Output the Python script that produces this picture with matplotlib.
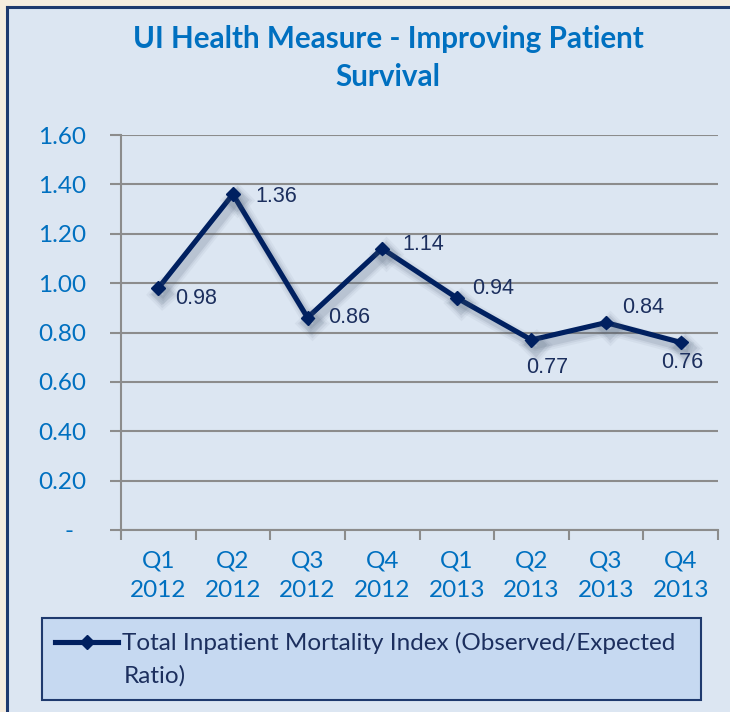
import matplotlib
matplotlib.use("Agg")
import matplotlib.pyplot as plt
import matplotlib.patheffects as pe
from matplotlib.patches import Rectangle
from matplotlib.lines import Line2D

quarters = ["Q1\n2012", "Q2\n2012", "Q3\n2012", "Q4\n2012",
            "Q1\n2013", "Q2\n2013", "Q3\n2013", "Q4\n2013"]
mortality_index = [0.98, 1.36, 0.86, 1.14, 0.94, 0.77, 0.84, 0.76]
y_ticks = [0.0, 0.2, 0.4, 0.6, 0.8, 1.0, 1.2, 1.4, 1.6]
y_tick_labels = ["-  ", "0.20", "0.40", "0.60", "0.80", "1.00", "1.20", "1.40", "1.60"]
series_name = "Total Inpatient Mortality Index (Observed/Expected"
series_name_2 = "Ratio)"
title = "UI Health Measure - Improving Patient\nSurvival"

W, H = 730, 712
blue = "#0070c0"
navy = "#002060"
text_navy = "#1c2f5e"
grid_gray = "#8c8c8c"
beige = "#f6eddf"
border = "#1f3a6e"
fs = 17.5

fig = plt.figure(figsize=(W / 100, H / 100), dpi=100)
fig.patch.set_facecolor("#dce6f2")

# beige margin on left and top, dark border only on those sides
fig.patches.append(Rectangle((0, 0), 6 / W, 1, transform=fig.transFigure,
                             facecolor=beige, edgecolor="none", zorder=-10))
fig.patches.append(Rectangle((0, 1 - 7 / H), 1, 7 / H, transform=fig.transFigure,
                             facecolor=beige, edgecolor="none", zorder=-10))
fig.add_artist(Line2D([7 / W, 7 / W], [0, 1 - 7 / H], transform=fig.transFigure,
                      color=border, lw=2.2, solid_capstyle="projecting"))
fig.add_artist(Line2D([7 / W, 1], [1 - 7 / H, 1 - 7 / H], transform=fig.transFigure,
                      color=border, lw=2.2, solid_capstyle="projecting"))

ax = fig.add_axes([121 / W, 1 - 530 / H, 597 / W, 395 / H])
ax.set_facecolor("none")
ax.set_zorder(2)

# soft drop shadow under the line
shadow = [pe.SimpleLineShadow(offset=(3, -4), shadow_color="#4a5a70", alpha=a, linewidth=w)
          for a, w in [(0.06, 11), (0.08, 8), (0.12, 5.5)]]

x = list(range(len(quarters)))
line, = ax.plot(x, mortality_index, color=navy, lw=3.7, marker="D", ms=7,
                solid_joinstyle="miter", zorder=5,
                path_effects=shadow + [pe.Normal()])

# data labels
offsets = [(17, -10, "left"), (22, -2, "left"), (21, 0, "left"), (20, 4, "left"),
           (15, 9, "left"), (16, -28, "center"), (16, 15, "left"), (1, -20, "center")]
for xi, v, (dx, dy, ha) in zip(x, mortality_index, offsets):
    ax.annotate(f"{v:.2f}", (xi, v), xytext=(dx, dy), textcoords="offset pixels",
                ha=ha, va="center", fontsize=15.5, color=text_navy,
                family="Liberation Sans", zorder=6)

ax.set_xlim(-0.5, len(quarters) - 0.5)
ax.set_ylim(0, 1.6)
ax.set_yticks(y_ticks)
ax.set_yticklabels(y_tick_labels)
ax.set_xticks(x)
ax.set_xticklabels(quarters)
ax.set_xticks([i - 0.5 for i in range(len(quarters) + 1)], minor=True)

for lab in ax.get_xticklabels() + ax.get_yticklabels():
    lab.set_family("Lato")
    lab.set_fontsize(fs)
    lab.set_color(blue)
for lab in ax.get_xticklabels():
    lab.set_linespacing(1.5)

ax.tick_params(axis="y", length=8, width=1.5, color=grid_gray, pad=17)
ax.tick_params(axis="x", which="major", length=0, pad=15)
ax.tick_params(axis="x", which="minor", length=7, width=1.5, color=grid_gray)

ax.yaxis.grid(True, color=grid_gray, lw=1.5)
ax.set_axisbelow(True)
for s in ["top", "right"]:
    ax.spines[s].set_visible(False)
for s in ["left", "bottom"]:
    ax.spines[s].set_color(grid_gray)
    ax.spines[s].set_linewidth(1.5)

fig.text(388 / W, 1 - 58 / H, title, ha="center", va="center", multialignment="center",
         fontsize=21.3, fontweight="bold", color=blue, family="Lato", linespacing=1.45)

# legend box
fig.patches.append(Rectangle((42 / W, 1 - 700 / H), 659 / W, 82 / H,
                             transform=fig.transFigure, facecolor="#c6d9f1",
                             edgecolor=border, linewidth=1.5, zorder=1))
leg = fig.legend([line], [series_name], loc="center left",
                 bbox_to_anchor=(55 / W, 1 - 643 / H), frameon=False,
                 borderpad=0, borderaxespad=0, handlelength=2.6, handletextpad=0.15,
                 prop={"family": "Lato", "size": fs})
leg.set_zorder(3)
leg.get_lines()[0].set_path_effects([])
for t in leg.get_texts():
    t.set_color(text_navy)
fig.text(124 / W, 1 - 676 / H, series_name_2, ha="left", va="center",
         fontsize=fs, family="Lato", color=text_navy, zorder=3)

fig.savefig("out.png", dpi=100, facecolor=fig.get_facecolor())
